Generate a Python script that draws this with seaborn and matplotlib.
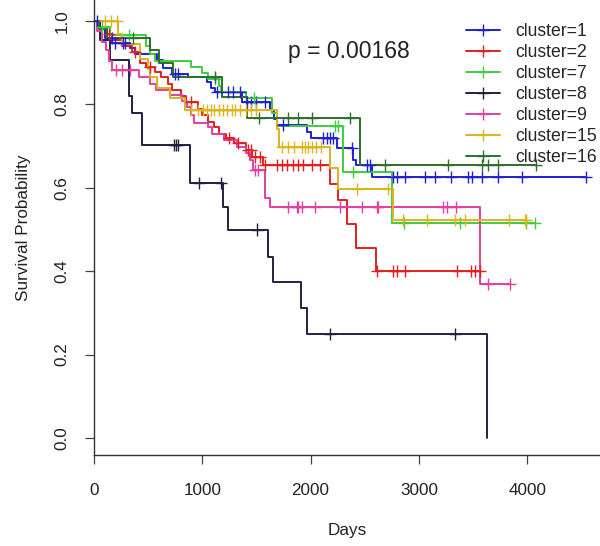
import numpy as np
import pandas as pd
import matplotlib
matplotlib.use("Agg")
import matplotlib.pyplot as plt
from matplotlib.lines import Line2D
import seaborn as sns

# ---- data ----
labels = ["cluster=1", "cluster=2", "cluster=7", "cluster=8", "cluster=9", "cluster=15", "cluster=16"]
colors = ["#2020d0", "#e02020", "#40cc40", "#202040", "#e040a0", "#dcb41c", "#2e6e2e"]

times1 = [0, 50, 100, 170, 330, 380, 580, 640, 720, 870, 1040, 1080, 1117, 1367, 1625, 1660, 1690, 1967, 2000, 2240, 2390, 2420, 2565]
surv1 = [1.0, 0.985, 0.96, 0.947, 0.935, 0.92, 0.906, 0.887, 0.874, 0.865, 0.854, 0.84, 0.83, 0.806, 0.787, 0.765, 0.75, 0.735, 0.72, 0.695, 0.667, 0.655, 0.625]
cens1 = [30, 166, 194, 268, 286, 750, 780, 1135, 1240, 1285, 1350, 1413, 1450, 1500, 1580, 1745, 2115, 2150, 2180, 2207, 2380, 2520, 2550,
         2760, 2800, 2870, 3060, 3150, 3300, 3450, 3490, 3580, 3730, 3950, 4540]

times2 = [0, 60, 120, 170, 260, 350, 425, 480, 560, 620, 680, 720, 800, 850, 960, 1000, 1050, 1110, 1150, 1220, 1290, 1400, 1460, 1560, 2180, 2255, 2340, 2420, 2600]
surv2 = [1.0, 0.985, 0.97, 0.955, 0.94, 0.925, 0.90, 0.89, 0.877, 0.866, 0.85, 0.835, 0.82, 0.805, 0.79, 0.775, 0.758, 0.745, 0.73, 0.72, 0.707, 0.69, 0.674, 0.655, 0.61, 0.571, 0.513, 0.455, 0.40]
cens2 = [140, 380, 520, 900, 1250, 1330, 1420, 1450, 1490, 1530, 1580, 1690, 1740, 1780, 1840, 1880, 1930, 2010, 2090,
         2610, 2760, 2800, 2870, 3350, 3480, 3520, 3560]

times7 = [0, 40, 150, 480, 520, 560, 900, 1000, 1050, 1150, 1170, 1400, 1640, 1690, 2300, 2750]
surv7 = [1.0, 0.985, 0.966, 0.94, 0.92, 0.905, 0.89, 0.875, 0.86, 0.845, 0.83, 0.815, 0.78, 0.748, 0.638, 0.515]
cens7 = [70, 320, 1117, 1480, 2225, 2255, 2390, 2860, 3380, 3990, 4070]

times8 = [0, 60, 150, 326, 350, 440, 886, 1191, 1240, 1607, 1650, 1911, 1966, 3629]
surv8 = [1.0, 0.955, 0.906, 0.82, 0.78, 0.703, 0.611, 0.555, 0.50, 0.434, 0.374, 0.312, 0.25, 0.0]
cens8 = [740, 760, 780, 970, 1173, 1505, 2180, 3333]

times9 = [0, 30, 70, 110, 140, 170, 420, 520, 570, 700, 810, 860, 900, 920, 1050, 1090, 1200, 1320, 1400, 1440, 1470, 1580, 1625, 3560]
surv9 = [1.0, 0.975, 0.95, 0.93, 0.905, 0.882, 0.866, 0.85, 0.835, 0.822, 0.808, 0.794, 0.775, 0.755, 0.745, 0.73, 0.714, 0.698, 0.683, 0.667, 0.643, 0.576, 0.554, 0.37]
cens9 = [200, 260, 330, 1490, 1515, 1795, 1870, 1885, 1920, 2040, 2270, 2475, 2610, 2625, 3225, 3260, 3340, 3640, 3840]

times15 = [0, 220, 260, 425, 500, 520, 580, 700, 840, 1690, 1710, 2180, 2250, 2760]
surv15 = [1.0, 0.97, 0.945, 0.91, 0.885, 0.865, 0.84, 0.815, 0.787, 0.74, 0.697, 0.647, 0.597, 0.523]
cens15 = [100, 160, 215, 900, 960, 1010, 1040, 1080, 1110, 1150, 1190, 1230, 1270, 1300, 1350, 1400, 1450, 1500,
          1740, 1790, 1850, 1920, 1950, 1980, 2010, 2050, 2100, 2430, 2715, 2855, 3075, 3335, 3425, 3830, 3980, 3990]

times16 = [0, 50, 120, 517, 600, 730, 1180, 1410, 2456]
surv16 = [1.0, 0.98, 0.96, 0.93, 0.90, 0.866, 0.818, 0.767, 0.655]
cens16 = [360, 1117, 1520, 1790, 1885, 2010, 2365, 2690, 3270, 3580, 3640, 3730, 4080]

p_label = "p = 0.00168"

series = [(times1, surv1, cens1), (times2, surv2, cens2), (times7, surv7, cens7), (times8, surv8, cens8),
          (times9, surv9, cens9), (times15, surv15, cens15), (times16, surv16, cens16)]

# ---- build tables ----
curve_rows, cens_rows = [], []
for lab, (tt, ss, cc) in zip(labels, series):
    tt = list(tt); ss = list(ss)
    end = max(max(cc), tt[-1])
    if end > tt[-1]:
        tt.append(end); ss.append(ss[-1])
    for t, s in zip(tt, ss):
        curve_rows.append((lab, t, s))
    ta = np.array(tt); sa = np.array(ss)
    for c in cc:
        idx = np.searchsorted(ta, c, side="right") - 1
        cens_rows.append((lab, c, sa[idx]))
curves = pd.DataFrame(curve_rows, columns=["cluster", "t", "S"])
cens = pd.DataFrame(cens_rows, columns=["cluster", "t", "S"])
pal = dict(zip(labels, colors))

# ---- figure ----
sns.set_theme(style="white")
plt.rcParams["font.family"] = ["Liberation Sans", "DejaVu Sans"]
fig = plt.figure(figsize=(6.0, 5.46), dpi=100)
ax = fig.add_axes([94/600, 1 - 455/546, 506/600, 455/546])

sns.lineplot(data=curves, x="t", y="S", hue="cluster", hue_order=labels, palette=pal,
             estimator=None, sort=False, drawstyle="steps-post", linewidth=1.4, legend=False, ax=ax)
sns.scatterplot(data=cens, x="t", y="S", hue="cluster", hue_order=labels, palette=pal,
                marker="+", s=75, linewidth=1.0, legend=False, ax=ax, zorder=3)

ax.set_xlim(0, 4672)
ax.set_ylim(-0.0408, 1.0504)
ax.set_xticks([0, 1000, 2000, 3000, 4000])
ax.set_yticks([0.0, 0.2, 0.4, 0.6, 0.8, 1.0])
ax.set_yticklabels(["0.0", "0.2", "0.4", "0.6", "0.8", "1.0"], rotation=90, va="center")
for side in ["top", "right"]:
    ax.spines[side].set_visible(False)
for side in ["left", "bottom"]:
    ax.spines[side].set_color("#333333")
    ax.spines[side].set_linewidth(1.0)
ax.tick_params(axis="x", direction="out", length=6.5, width=0.9, color="#444444",
               labelsize=12.3, labelcolor="#222222", pad=14, bottom=True)
ax.tick_params(axis="y", direction="out", length=6.5, width=0.9, color="#444444",
               labelsize=12.3, labelcolor="#222222", pad=11, left=True)
ax.set_xlabel("Days", fontsize=12.3, color="#222222", labelpad=18)
ax.set_ylabel("Survival Probability", fontsize=12.3, color="#222222", labelpad=17)

ax.text(1791, 0.926, p_label, fontsize=16.5, color="#222222", ha="left", va="center")

handles = [Line2D([], [], color=c, lw=1.4, marker="+", markersize=8.6, markeredgewidth=1.0) for c in colors]
ax.legend(handles, labels, loc="upper left", bbox_to_anchor=(466/600, 1 - 23/546),
          bbox_transform=fig.transFigure, frameon=False, fontsize=12.7,
          handlelength=1.9, handletextpad=0.9, labelspacing=0.23, borderpad=0, borderaxespad=0)

fig.savefig("out.png", dpi=100)
